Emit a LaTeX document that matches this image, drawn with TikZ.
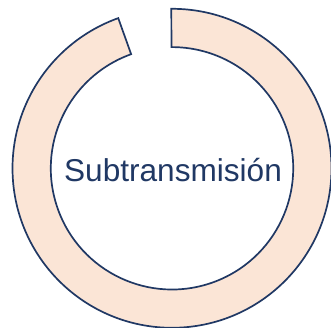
\documentclass[tikz,border=0pt]{standalone}
\usepackage{fontspec}
\usetikzlibrary{calc}
\setmainfont{Liberation Sans}
\definecolor{ringfill}{HTML}{FBE5D6}
\definecolor{navy}{HTML}{203864}
\tikzset{ringshape/.style={draw=navy,fill=ringfill,line width=1.7pt,line join=miter}}
\begin{document}
\begin{tikzpicture}[x=1pt,y=1pt]
\useasboundingbox (0,0) rectangle (331,328);
\coordinate (c) at (172,159.7);
\draw[ringshape] ($(c)+(90.25:159.5)$) arc[start angle=90.25,delta angle=-340.55,radius=159.5pt]
  -- ($(c)+(109.7:121.2)$) arc[start angle=109.7,delta angle=340.55,radius=121.2pt] -- cycle;
\node[text=navy,font=\fontsize{31.6}{36}\selectfont,anchor=base,inner sep=0pt] (label) at (173,146) {Subtransmisión};
\end{tikzpicture}
\end{document}
